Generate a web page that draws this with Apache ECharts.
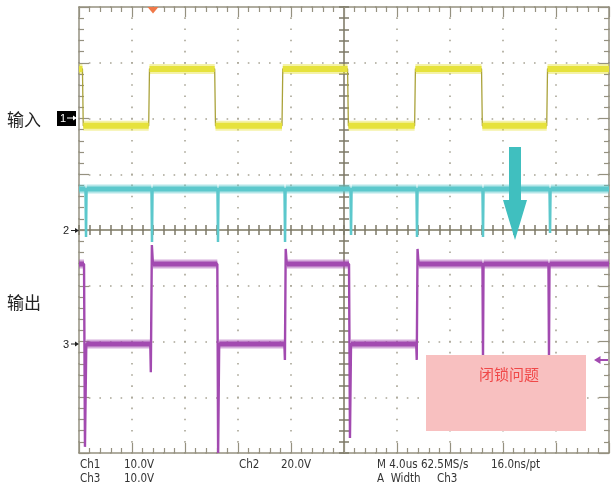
<!DOCTYPE html>
<html><head><meta charset="utf-8">
<script src="https://cdn.jsdelivr.net/npm/echarts@6/dist/echarts.min.js"></script>
<style>html,body{margin:0;padding:0;background:#fff}#c{width:615px;height:488px}</style>
</head><body><div id="c"></div>
<script>
// Time axis in microseconds (M 4.0us per division, 10 divisions), screen in divisions (8)
const timeRange = [-20, 20];
const timePerDiv = 4;
const divRange = [-4, 4];

// channel scale (V/div) and ground offset (div)
const ch1Scale = 10, ch1Offset = 2;
const ch2Scale = 20, ch2Offset = 0;
const ch3Scale = 10, ch3Offset = -2;

// Ch1 (input, yellow) [time us, volts]
const ch1Points = [
  [-20, 8.9], [-19.74, 8.9], [-19.68, -1.3],
  [-14.74, -1.3], [-14.68, 8.9],
  [-9.76, 8.9], [-9.70, -1.3],
  [-4.68, -1.3], [-4.62, 8.9],
  [0.27, 8.9], [0.33, -1.3],
  [5.33, -1.3], [5.39, 8.9],
  [10.38, 8.9], [10.44, -1.3],
  [15.30, -1.3], [15.36, 8.9],
  [20, 8.9]
];

// Ch2 (cyan): baseline and negative spikes
const ch2Baseline = 14.7;
const ch2SpikeTimes = [-19.47, -14.49, -9.51, -4.45, 0.53, 5.51, 10.49, 15.55];
const ch2SpikeDepths = [-2.5, -4.3, -4.3, -4.3, -1.8, -2.5, -2.5, -1.1];

// Ch3 (output, purple) [time us, volts]
const ch3Points = [
  [-20, 13.9], [-19.62, 13.9], [-19.55, -18.9], [-19.45, -0.45],
  [-14.62, -0.45], [-14.58, -5.5], [-14.50, 17.3], [-14.42, 13.9],
  [-9.56, 13.9], [-9.50, -20], [-9.42, -0.45],
  [-4.50, -0.45], [-4.46, -3.3], [-4.40, 16.6], [-4.32, 13.9],
  [0.38, 13.9], [0.45, -17.3], [0.53, -0.45],
  [5.45, -0.45], [5.49, -3.3], [5.55, 16.6], [5.63, 13.9],
  [10.45, 13.9], [10.49, -3], [10.53, 13.9],
  [15.43, 13.9], [15.47, -3], [15.51, 13.9],
  [20, 13.9]
];

const bottomRow1 = [['Ch1', 80], ['10.0V', 124], ['Ch2', 239], ['20.0V', 281], ['M 4.0us 62.5MS/s', 377], ['16.0ns/pt', 491]];
const bottomRow2 = [['Ch3', 80], ['10.0V', 124], ['A  Width', 377], ['Ch3', 437]];

function buildCh2() {
  const pts = [[timeRange[0], ch2Baseline]];
  ch2SpikeTimes.forEach((t, i) => {
    pts.push([t - 0.04, ch2Baseline], [t, ch2SpikeDepths[i]], [t + 0.04, ch2Baseline]);
  });
  pts.push([timeRange[1], ch2Baseline]);
  return pts;
}
function toScreen(points, scale, offset) {
  return points.map(p => [p[0], p[1] / scale + offset]);
}
// only flat (constant level) runs, broken at every transition
function levels(points) {
  const out = [];
  for (let i = 0; i < points.length; i++) {
    out.push(points[i]);
    if (i + 1 < points.length && points[i + 1][1] !== points[i][1]) out.push([points[i][0], '-']);
  }
  return out;
}

const ch1 = toScreen(ch1Points, ch1Scale, ch1Offset);
const ch2 = toScreen(buildCh2(), ch2Scale, ch2Offset);
const ch3 = toScreen(ch3Points, ch3Scale, ch3Offset);

const frame = '#959180';
const dot = '#a9a596';

function xAx(opt) {
  return Object.assign({
    type: 'value', min: timeRange[0], max: timeRange[1], interval: timePerDiv,
    axisLabel: { show: false },
    axisLine: { show: true, onZero: false, lineStyle: { color: frame, width: 1.5 } },
    axisTick: { show: true, inside: true, length: 10, lineStyle: { color: frame, width: 1.2 } },
    minorTick: { show: true, splitNumber: 5, length: 5, lineStyle: { color: frame, width: 1.2 } },
    splitLine: { show: false }
  }, opt);
}
function yAx(opt) {
  return Object.assign({
    type: 'value', min: divRange[0], max: divRange[1], interval: 1,
    axisLabel: { show: false },
    axisLine: { show: true, onZero: false, lineStyle: { color: frame, width: 1.5 } },
    axisTick: { show: true, inside: true, length: 10, lineStyle: { color: frame, width: 1.2 } },
    minorTick: { show: true, splitNumber: 5, length: 5, lineStyle: { color: frame, width: 1.2 } },
    splitLine: { show: false }
  }, opt);
}
const centerColor = '#7d7968';
const centerTick = (inside) => ({ show: true, inside: inside, length: 5, lineStyle: { color: centerColor, width: 1.5 } });
const centerMinor = { show: true, splitNumber: 5, length: 5, lineStyle: { color: centerColor, width: 1.5 } };
const centerAxisLine = { show: true, onZero: false, lineStyle: { color: frame, width: 1.5 } };

function trace(data, color, halo, core, thin, thinColor) {
  return [
    { type: 'line', data: levels(data), showSymbol: false, symbol: 'none', connectNulls: false, silent: true,
      lineStyle: { color: color, width: halo, opacity: 0.45 }, z: 3 },
    { type: 'line', data: data, showSymbol: false, symbol: 'none', silent: true,
      lineStyle: { color: thinColor, width: thin }, z: 4 },
    { type: 'line', data: levels(data), showSymbol: false, symbol: 'none', connectNulls: false, silent: true,
      lineStyle: { color: color, width: core }, z: 5 }
  ];
}

const txt = (s, x, y, size, color, extra) => ({
  type: 'text', x: x, y: y, z: 50, silent: true,
  style: Object.assign({ text: s, fill: color, fontSize: size, fontFamily: 'Liberation Sans, Arial, sans-serif', verticalAlign: 'middle' }, extra || {})
});

const narrow = "'Liberation Sans Narrow', 'DejaVu Sans Condensed', sans-serif";
const graphics = [];
bottomRow1.forEach(([s, x]) => graphics.push(txt(s, x, 465, 11.5, '#333', { fontFamily: narrow })));
bottomRow2.forEach(([s, x]) => graphics.push(txt(s, x, 479, 11.5, '#333', { fontFamily: narrow })));
graphics.push(txt('输入', 7, 120, 17, '#222', { fontFamily: "'Noto Sans CJK SC', sans-serif" }));
graphics.push(txt('输出', 7, 303, 17, '#222', { fontFamily: "'Noto Sans CJK SC', sans-serif" }));
// channel markers
graphics.push({ type: 'rect', shape: { x: 57, y: 111, width: 19, height: 15 }, style: { fill: '#000' }, z: 50 });
graphics.push(txt('1', 60, 118.5, 11, '#fff'));
graphics.push({ type: 'line', shape: { x1: 67, y1: 118, x2: 74, y2: 118 }, style: { stroke: '#fff', lineWidth: 1 }, z: 51 });
graphics.push({ type: 'polygon', shape: { points: [[77, 118], [73, 115.5], [73, 120.5]] }, style: { fill: '#fff' }, z: 51 });
graphics.push(txt('2', 63, 231, 11, '#222'));
graphics.push({ type: 'line', shape: { x1: 71, y1: 230.5, x2: 76, y2: 230.5 }, style: { stroke: '#222', lineWidth: 1 }, z: 51 });
graphics.push({ type: 'polygon', shape: { points: [[79, 230.5], [75, 228], [75, 233]] }, style: { fill: '#222' }, z: 51 });
graphics.push(txt('3', 63, 345, 11, '#222'));
graphics.push({ type: 'line', shape: { x1: 71, y1: 344, x2: 76, y2: 344 }, style: { stroke: '#222', lineWidth: 1 }, z: 51 });
graphics.push({ type: 'polygon', shape: { points: [[79, 344], [75, 341.5], [75, 346.5]] }, style: { fill: '#222' }, z: 51 });
// trigger position marker
graphics.push({ type: 'polygon', shape: { points: [[147.5, 7], [158.5, 7], [153, 13.5]] }, style: { fill: '#f07848' }, z: 51 });
// trigger level marker (right)
graphics.push({ type: 'line', shape: { x1: 598, y1: 360, x2: 608, y2: 360 }, style: { stroke: '#a24ab0', lineWidth: 2 }, z: 51 });
graphics.push({ type: 'polygon', shape: { points: [[594, 360], [600.5, 356], [600.5, 364]] }, style: { fill: '#a24ab0' }, z: 51 });
// annotation arrow
graphics.push({ type: 'polygon', shape: { points: [[509, 147], [521, 147], [521, 200], [527, 200], [515, 240], [503, 200], [509, 200]] }, style: { fill: '#40bfbf' }, z: 60 });
// annotation box
graphics.push({ type: 'rect', shape: { x: 426, y: 355, width: 160, height: 76 }, style: { fill: '#f8c0c0' }, z: 60 });
graphics.push(txt('闭锁问题', 509, 374, 15, '#f04848', { align: 'center', fontFamily: "'Noto Sans CJK SC', sans-serif" }));
graphics.forEach(g => { g.silent = true; });
graphics[graphics.length - 1].z = 61;

const chart = echarts.init(document.getElementById('c'), null, { renderer: 'canvas' });
chart.setOption({
  animation: false,
  backgroundColor: '#ffffff',
  grid: [
    { left: 79, top: 7, width: 530, height: 446, containLabel: false, show: false },   // full screen
    { left: 79, top: 7, width: 265, height: 446, containLabel: false, show: false },   // left half -> vertical centre line
    { left: 79, top: 7, width: 530, height: 223, containLabel: false, show: false }    // top half -> horizontal centre line
  ],
  xAxis: [
    xAx({ gridIndex: 0, position: 'bottom', splitLine: { show: true, lineStyle: { color: dot, width: 1.6, type: [1.6, 9.55], dashOffset: 0.8 } } }),
    xAx({ gridIndex: 0, position: 'top' }),
    xAx({ gridIndex: 1, show: false }),
    xAx({ gridIndex: 2, position: 'bottom', axisLine: centerAxisLine, axisTick: centerTick(true), minorTick: centerMinor }),
    xAx({ gridIndex: 2, position: 'bottom', axisLine: centerAxisLine, axisTick: centerTick(false), minorTick: centerMinor })
  ],
  yAxis: [
    yAx({ gridIndex: 0, position: 'left', splitLine: { show: true, lineStyle: { color: dot, width: 1.6, type: [1.6, 9.0], dashOffset: 0.8 } } }),
    yAx({ gridIndex: 0, position: 'right' }),
    yAx({ gridIndex: 1, position: 'right', axisLine: centerAxisLine, axisTick: centerTick(true), minorTick: centerMinor }),
    yAx({ gridIndex: 1, position: 'right', axisLine: centerAxisLine, axisTick: centerTick(false), minorTick: centerMinor }),
    yAx({ gridIndex: 2, show: false })
  ],
  series: [].concat(
    trace(ch2, '#5cc8cc', 9, 5, 2.5, '#5cc8cc'),
    trace(ch3, '#a24ab0', 9, 5, 2.4, '#a24ab0'),
    trace(ch1, '#e6e23c', 10, 6, 1.3, '#aaa23a')
  ).map(s => Object.assign(s, { xAxisIndex: 0, yAxisIndex: 0 })),
  graphic: graphics
});
</script></body></html>
